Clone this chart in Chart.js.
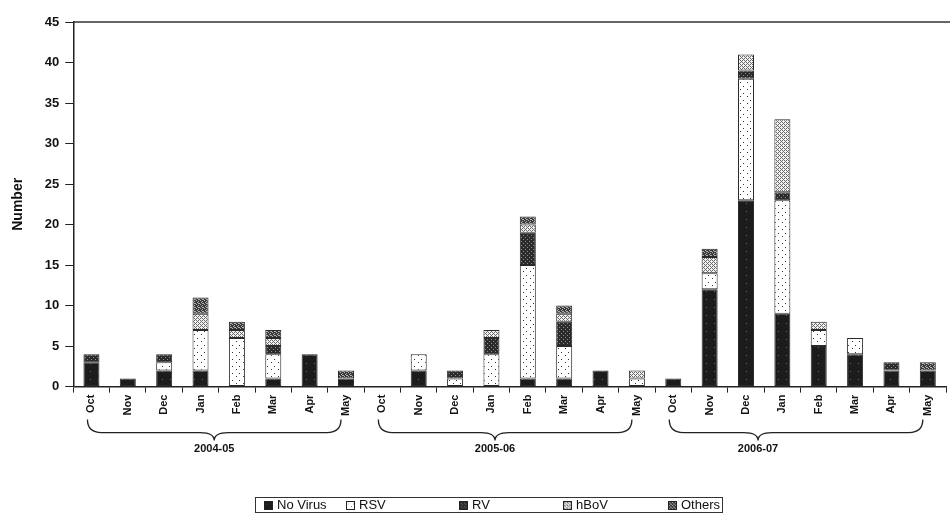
<!DOCTYPE html>
<html>
<head>
<meta charset="utf-8">
<script src="https://cdn.jsdelivr.net/npm/chart.js@4/dist/chart.umd.min.js"></script>
<style>
  html, body { margin: 0; padding: 0; background: #fff; }
  #wrap { position: relative; width: 950px; height: 513px; }
  #legend {
    position: absolute; left: 255px; top: 497px; width: 466px; height: 14px;
    border: 1px solid #333; font: 13px "Liberation Sans", Arial, sans-serif; color: #111;
  }
  #legend span { position: absolute; top: -1px; line-height: 15px; white-space: nowrap; }
  #legend canvas { position: absolute; top: 3px; width: 9px; height: 9px; border: 1px solid #222; box-sizing: border-box; }
</style>
</head>
<body>
<div id="wrap">
  <canvas id="virus_chart"></canvas>
  <div id="legend"></div>
</div>
<script>
// Month labels, three winter seasons
var months = ['Oct', 'Nov', 'Dec', 'Jan', 'Feb', 'Mar', 'Apr', 'May',
              'Oct', 'Nov', 'Dec', 'Jan', 'Feb', 'Mar', 'Apr', 'May',
              'Oct', 'Nov', 'Dec', 'Jan', 'Feb', 'Mar', 'Apr', 'May'];
var seasons = ['2004-05', '2005-06', '2006-07'];

// Counts per month (stack order: No Virus, RSV, RV, hBoV, Others)
var noVirus = [3, 1, 2, 2, 0, 1, 4, 1,  0, 2, 0, 0, 1, 1, 2, 0,  1, 12, 23, 9, 5, 4, 2, 2];
var rsv     = [0, 0, 1, 5, 6, 3, 0, 0,  0, 2, 1, 4, 14, 4, 0, 1,  0, 2, 15, 14, 2, 2, 0, 0];
var rv      = [1, 0, 1, 0, 0, 1, 0, 0,  0, 0, 1, 2, 4, 3, 0, 0,  0, 0, 1, 1, 0, 0, 1, 0];
var hbov    = [0, 0, 0, 2, 1, 1, 0, 0,  0, 0, 0, 1, 1, 1, 0, 1,  0, 2, 2, 9, 1, 0, 0, 0];
var others  = [0, 0, 0, 2, 1, 1, 0, 1,  0, 0, 0, 0, 1, 1, 0, 0,  0, 1, 0, 0, 0, 0, 0, 1];

var yTicks = [0, 5, 10, 15, 20, 25, 30, 35, 40, 45];

var FONT = '"Liberation Sans", Arial, Helvetica, sans-serif';

/**
 * Small tile used as a fill pattern, like the print hatches.
 */
function tile(size, bg, fg, pts) {
    var c = document.createElement('canvas');
    c.width = size;
    c.height = size;
    var g = c.getContext('2d');
    g.fillStyle = bg;
    g.fillRect(0, 0, size, size);
    g.fillStyle = fg;
    pts.forEach(function(p) { g.fillRect(p[0], p[1], 1, 1); });
    return c;
}

var tiles = {
    noVirus: tile(8, '#1c1c1c', '#6a6a6a', [[2, 3]]),
    rsv: tile(7, '#ffffff', '#333333', [[1, 2], [5, 5]]),
    rv: tile(4, '#2b2b2b', '#8c8c8c', [[1, 1], [3, 3]]),
    hbov: tile(4, '#f2f2f2', '#6a6a6a', [[0, 0], [2, 0], [1, 1], [0, 2], [2, 2], [3, 3]]),
    others: tile(4, '#3a3a3a', '#b0b0b0', [[0, 0], [2, 1], [1, 2], [3, 3], [2, 3]])
};

var ctx = document.getElementById('virus_chart').getContext('2d');
function pat(t) { return ctx.createPattern(t, 'repeat'); }

var series = [
    { label: 'No Virus', data: noVirus, t: tiles.noVirus },
    { label: 'RSV', data: rsv, t: tiles.rsv },
    { label: 'RV', data: rv, t: tiles.rv },
    { label: 'hBoV', data: hbov, t: tiles.hbov },
    { label: 'Others', data: others, t: tiles.others }
];

// Top frame line plus the season braces under the month labels
var bracePlugin = {
    id: 'braces',
    afterDraw: function(chart) {
        var c = chart.ctx;
        var area = chart.chartArea;
        var x = chart.scales.x;
        c.save();
        c.strokeStyle = '#333';
        c.lineWidth = 1.5;
        c.beginPath();
        c.moveTo(area.left, area.top);
        c.lineTo(chart.width, area.top);
        c.stroke();

        var tipFrac = [0.5, 0.46, 0.35];
        var yTop = area.bottom + 33, yMid = area.bottom + 46, yTip = area.bottom + 54;
        c.lineWidth = 1.3;
        c.strokeStyle = '#222';
        c.fillStyle = '#111';
        c.font = 'bold 11px ' + FONT;
        c.textAlign = 'center';
        c.textBaseline = 'middle';
        seasons.forEach(function(s, i) {
            var x0 = x.getPixelForValue(i * 8) - 4;
            var x1 = x.getPixelForValue(i * 8 + 7) - 5;
            var tip = x0 + (x1 - x0) * tipFrac[i];
            var r = 14;
            c.beginPath();
            c.moveTo(x0, yTop);
            c.quadraticCurveTo(x0, yMid, x0 + r, yMid);
            c.lineTo(tip - r, yMid);
            c.quadraticCurveTo(tip, yMid, tip, yTip);
            c.quadraticCurveTo(tip, yMid, tip + r, yMid);
            c.lineTo(x1 - r, yMid);
            c.quadraticCurveTo(x1, yMid, x1, yTop);
            c.stroke();
            c.fillText(s, tip, area.bottom + 62);
        });
        c.restore();
    }
};

var virusChart = new Chart(ctx, {
    type: 'bar',
    data: {
        labels: months,
        datasets: series.map(function(s) {
            return {
                label: s.label,
                // empty segments are left out so no stray border is drawn
                data: s.data.map(function(v) { return v === 0 ? null : v; }),
                backgroundColor: pat(s.t),
                borderColor: '#2a2a2a',
                borderWidth: 1,
                borderSkipped: false,
                categoryPercentage: 1,
                barPercentage: 0.44
            };
        })
    },
    options: {
        responsive: true,
        maintainAspectRatio: false,
        animation: false,
        layout: { padding: { left: 8, right: 4, top: 22, bottom: 95 } },
        plugins: {
            legend: { display: false },
            tooltip: { enabled: false }
        },
        scales: {
            x: {
                stacked: true,
                grid: { offset: true, drawOnChartArea: false, tickLength: 6, color: '#222', lineWidth: 1 },
                border: { color: '#222', width: 1.5 },
                ticks: {
                    autoSkip: false, minRotation: 90, maxRotation: 90, padding: 2,
                    color: '#111', font: { family: FONT, size: 11, weight: 'bold' }
                }
            },
            y: {
                stacked: true,
                min: 0,
                max: 45,
                afterBuildTicks: function(axis) {
                    axis.ticks = yTicks.map(function(v) { return { value: v }; });
                },
                grid: { drawOnChartArea: false, tickLength: 8, color: '#222', lineWidth: 1 },
                border: { color: '#222', width: 1.5 },
                ticks: { padding: 6, color: '#111', font: { family: FONT, size: 13, weight: 'bold' } },
                title: {
                    display: true, text: 'Number', color: '#111',
                    padding: { top: 2, bottom: 12 },
                    font: { family: FONT, size: 14, weight: 'bold' }
                }
            }
        }
    },
    plugins: [bracePlugin]
});

// Legend with the uneven spacing of the original
var legendPos = [8, 90, 203, 307, 412];
var legend = document.getElementById('legend');
series.forEach(function(s, i) {
    var sw = document.createElement('canvas');
    sw.width = 9;
    sw.height = 9;
    var g = sw.getContext('2d');
    g.fillStyle = g.createPattern(s.t, 'repeat');
    g.fillRect(0, 0, 9, 9);
    sw.style.left = legendPos[i] + 'px';
    legend.appendChild(sw);
    var tx = document.createElement('span');
    tx.textContent = s.label;
    tx.style.left = (legendPos[i] + 13) + 'px';
    legend.appendChild(tx);
});
</script>
</body>
</html>
